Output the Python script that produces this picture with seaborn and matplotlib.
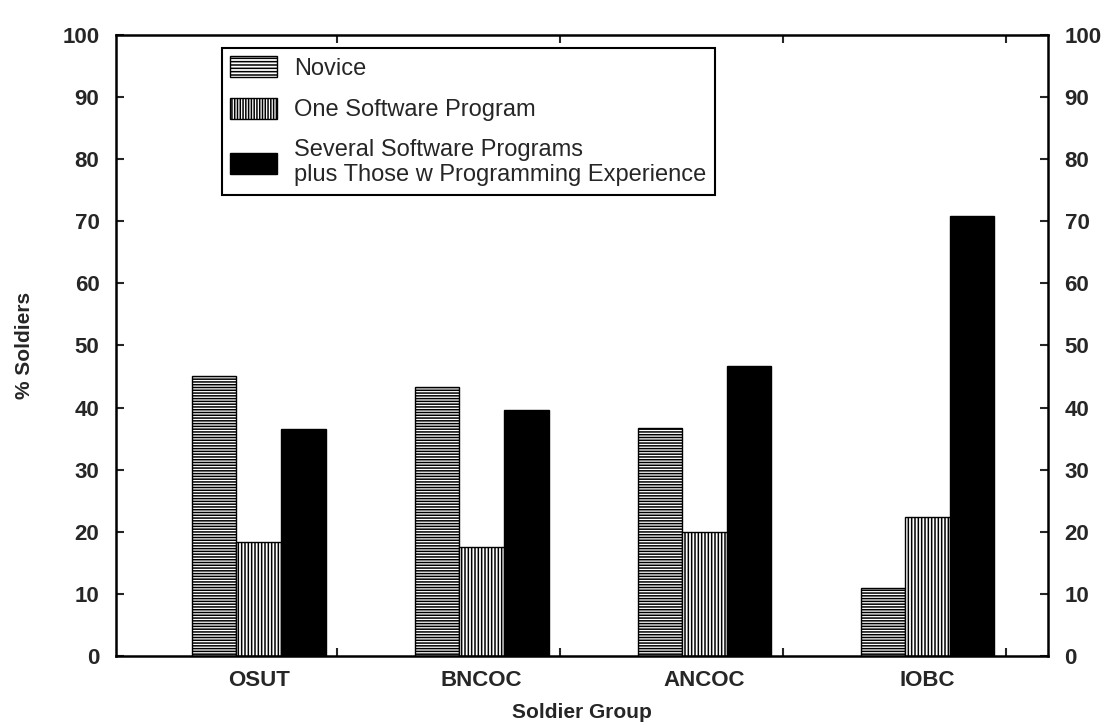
import numpy as np
import pandas as pd
import matplotlib.pyplot as plt
import seaborn as sns

# values
groups = ['OSUT', 'BNCOC', 'ANCOC', 'IOBC']
novice = [45.1, 43.3, 36.7, 11.0]
one_program = [18.4, 17.6, 19.9, 22.3]
several_programs = [36.5, 39.6, 46.7, 70.9]
levels = ['Novice', 'One Software Program',
          'Several Software Programs\nplus Those w Programming Experience']

df = pd.DataFrame({
    'group': groups * 3,
    'level': np.repeat(levels, len(groups)),
    'pct': novice + one_program + several_programs,
})

sns.set_style('ticks')
plt.rcParams['font.family'] = ['Liberation Sans', 'DejaVu Sans']
plt.rcParams['hatch.linewidth'] = 1.1

fig = plt.figure(figsize=(11.16, 7.28), dpi=100)
ax = fig.add_axes([0.104, 0.099, 0.835, 0.853])

sns.barplot(data=df, x='group', y='pct', hue='level', order=groups,
            hue_order=levels, palette=['white', 'white', 'black'],
            width=0.6, edgecolor='black', linewidth=1.0, errorbar=None,
            saturation=1, ax=ax)

hatches = ['------', '|||||', '']
for cont, h in zip(ax.containers, hatches):
    for bar in cont:
        bar.set_hatch(h)

ax.set_ylim(0, 100)
ax.set_xlim(-0.64, 3.54)
ax.set_yticks(range(0, 101, 10))
ax.set_xticks(range(len(groups)))
ax.set_xticks(np.arange(len(groups)) + 0.35, minor=True)
ax.tick_params(axis='y', direction='in', left=True, right=True,
               labelleft=True, labelright=True, length=6, width=1.5,
               labelsize=16, pad=12)
ax.tick_params(axis='x', which='major', length=0, labelsize=16, pad=10)
ax.tick_params(axis='x', which='minor', direction='in', top=True,
               bottom=True, length=6, width=1.5)
for lab in ax.get_xticklabels() + ax.get_yticklabels():
    lab.set_fontweight('bold')
for t in ax.yaxis.get_major_ticks():
    t.label2.set_fontweight('bold')

for s in ax.spines.values():
    s.set_visible(True)
    s.set_linewidth(1.8)
    s.set_color('black')

ax.set_xlabel('Soldier Group', fontsize=15, fontweight='bold', labelpad=9)
ax.set_ylabel('% Soldiers', fontsize=15, fontweight='bold', labelpad=20)

handles, labels = ax.get_legend_handles_labels()
for hd, h in zip(handles, ['-----', '||||||', '']):
    hd.set_hatch(h)
leg = ax.legend(handles, labels, loc='upper left',
                bbox_to_anchor=(222 / 1116, 1 - 48 / 728),
                bbox_transform=fig.transFigure, fontsize=17, frameon=True,
                fancybox=False, edgecolor='black', framealpha=1,
                handlelength=2.0, handleheight=1.0, labelspacing=0.75,
                borderpad=0.35, handletextpad=0.7, borderaxespad=0)
leg.get_frame().set_linewidth(1.5)

fig.savefig('out.png', dpi=100)
